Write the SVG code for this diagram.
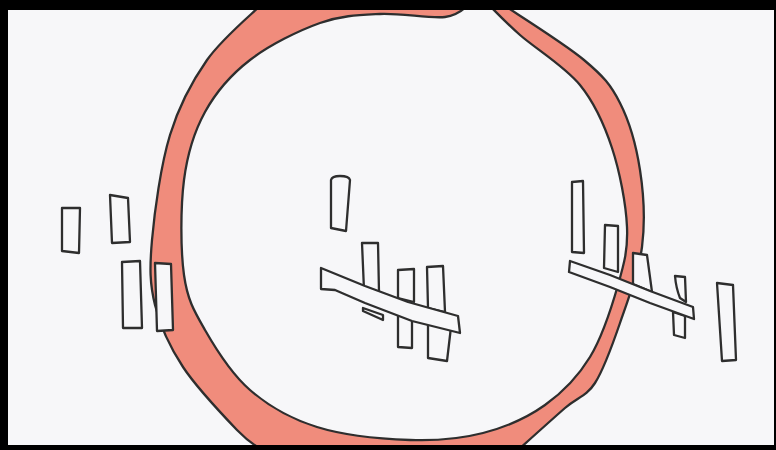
<svg xmlns="http://www.w3.org/2000/svg" width="776" height="450" viewBox="0 0 776 450">
<style>
.ln{fill:none;stroke:#2e2e2e;stroke-width:2.3;stroke-linejoin:round;stroke-linecap:round}
.bx{fill:#f7f7f9;stroke:#2e2e2e;stroke-width:2.3;stroke-linejoin:round}
</style>
<rect x="0" y="0" width="776" height="450" fill="#f7f7f9"/>
<g id="ring">
<path fill="#f08c7c" fill-rule="evenodd" d="M262,0 L262,4 C252.8,13.3 222.3,38.2 207,60 C191.7,81.8 179.2,105 170,135 C160.8,165 154.5,211.7 152,240 C149.5,268.3 149.8,283.8 155,305 C160.2,326.2 169.3,346.2 183,367 C196.7,387.8 223.8,416.2 237,430 C250.2,443.8 257.8,446.7 262,450 L262,452 L518,452 L518,450 C525.8,443 552.2,419.2 565,408 C577.8,396.8 585.8,397.2 595,383 C604.2,368.8 612.2,345.7 620,323 C627.8,300.3 638.7,272.5 642,247 C645.3,221.5 643.7,194 640,170 C636.3,146 629.3,121.3 620,103 C610.7,84.7 603.7,76.5 584,60 C564.3,43.5 515.7,13.3 502,4 L502,0 Z M470,0 L470,4 C465.8,6.2 460,15.3 445,17 C430,18.7 400.8,13 380,14 C359.2,15 341.7,15.3 320,23 C298.3,30.7 269.2,45.2 250,60 C230.8,74.8 216,92 205,112 C194,132 187.5,152.8 184,180 C180.5,207.2 180.5,250 184,275 C187.5,300 194,310.8 205,330 C216,349.2 231.3,373.8 250,390 C268.7,406.2 290.3,418.7 317,427 C343.7,435.3 382.3,439 410,440 C437.7,441 460.5,438.8 483,433 C505.5,427.2 527.2,417.7 545,405 C562.8,392.3 577.8,377 590,357 C602.2,337 611.8,306.7 618,285 C624.2,263.3 628,249.8 627,227 C626,204.2 619.8,171.7 612,148 C604.2,124.3 595.3,103.8 580,85 C564.7,66.2 535.3,48.5 520,35 C504.7,21.5 493.3,9.2 488,4 L488,0 Z"/>
<path class="ln" d="M262,4 C252.8,13.3 222.3,38.2 207,60 C191.7,81.8 179.2,105 170,135 C160.8,165 154.5,211.7 152,240 C149.5,268.3 149.8,283.8 155,305 C160.2,326.2 169.3,346.2 183,367 C196.7,387.8 223.8,416.2 237,430 C250.2,443.8 257.8,446.7 262,450"/>
<path class="ln" d="M518,450 C525.8,443 552.2,419.2 565,408 C577.8,396.8 585.8,397.2 595,383 C604.2,368.8 612.2,345.7 620,323 C627.8,300.3 638.7,272.5 642,247 C645.3,221.5 643.7,194 640,170 C636.3,146 629.3,121.3 620,103 C610.7,84.7 603.7,76.5 584,60 C564.3,43.5 515.7,13.3 502,4"/>
<path class="ln" d="M470,4 C465.8,6.2 460,15.3 445,17 C430,18.7 400.8,13 380,14 C359.2,15 341.7,15.3 320,23 C298.3,30.7 269.2,45.2 250,60 C230.8,74.8 216,92 205,112 C194,132 187.5,152.8 184,180 C180.5,207.2 180.5,250 184,275 C187.5,300 194,310.8 205,330 C216,349.2 231.3,373.8 250,390 C268.7,406.2 290.3,418.7 317,427 C343.7,435.3 382.3,439 410,440 C437.7,441 460.5,438.8 483,433 C505.5,427.2 527.2,417.7 545,405 C562.8,392.3 577.8,377 590,357 C602.2,337 611.8,306.7 618,285 C624.2,263.3 628,249.8 627,227 C626,204.2 619.8,171.7 612,148 C604.2,124.3 595.3,103.8 580,85 C564.7,66.2 535.3,48.5 520,35 C504.7,21.5 493.3,9.2 488,4"/>
</g>
<g id="left-group">
<polygon class="bx" points="62,208 80,208 79,253 62,251"/>
<polygon class="bx" points="110,195 128,198 130,242 112,243"/>
<polygon class="bx" points="122,262 140,261 142,328 123,328"/>
<polygon class="bx" points="155,263 171,264 173,330 157,331"/>
</g>
<g id="middle-group">
<path class="bx" d="M331,180 Q332,176 340,176 Q349,176 350,180 L346,231 L331,228 Z"/>
<polygon class="bx" points="362,243 378,243 379,292 364,290"/>
<polygon class="bx" points="398,270 414,269 414,302 398,298"/>
<polygon class="bx" points="427,267 443,266 445,312 428,308"/>
<polygon class="bx" points="363,308 383,315 383,320 363,311"/>
<polygon class="bx" points="398,312 412,314 412,348 398,347"/>
<polygon class="bx" points="428,322 451,327 447,361 428,358"/>
<path class="bx" d="M321,268 L365,286 L408,302 L458,316 L460,333 L412,321 L365,303 L335,290 L321,289 Z"/>
</g>
<g id="right-group">
<polygon class="bx" points="572,182 583,181 584,253 572,252"/>
<polygon class="bx" points="605,225 618,226 618,272 604,268"/>
<polygon class="bx" points="633,253 647,255 652,292 633,284"/>
<path class="bx" d="M675,276 L685,277 L686,302 L680,298 Q676,288 675,276 Z"/>
<polygon class="bx" points="673,312 685,316 685,338 674,335"/>
<polygon class="bx" points="717,283 733,285 736,360 722,361"/>
<path class="bx" d="M570,261 L610,275 L650,291 L693,307 L694,319 L650,303 L610,287 L569,272 Z"/>
</g>
<g id="frame" fill="#000">
<rect x="0" y="0" width="776" height="10"/>
<rect x="0" y="0" width="8" height="450"/>
<rect x="774" y="0" width="2" height="450"/>
<rect x="0" y="445" width="776" height="5"/>
</g>
</svg>
